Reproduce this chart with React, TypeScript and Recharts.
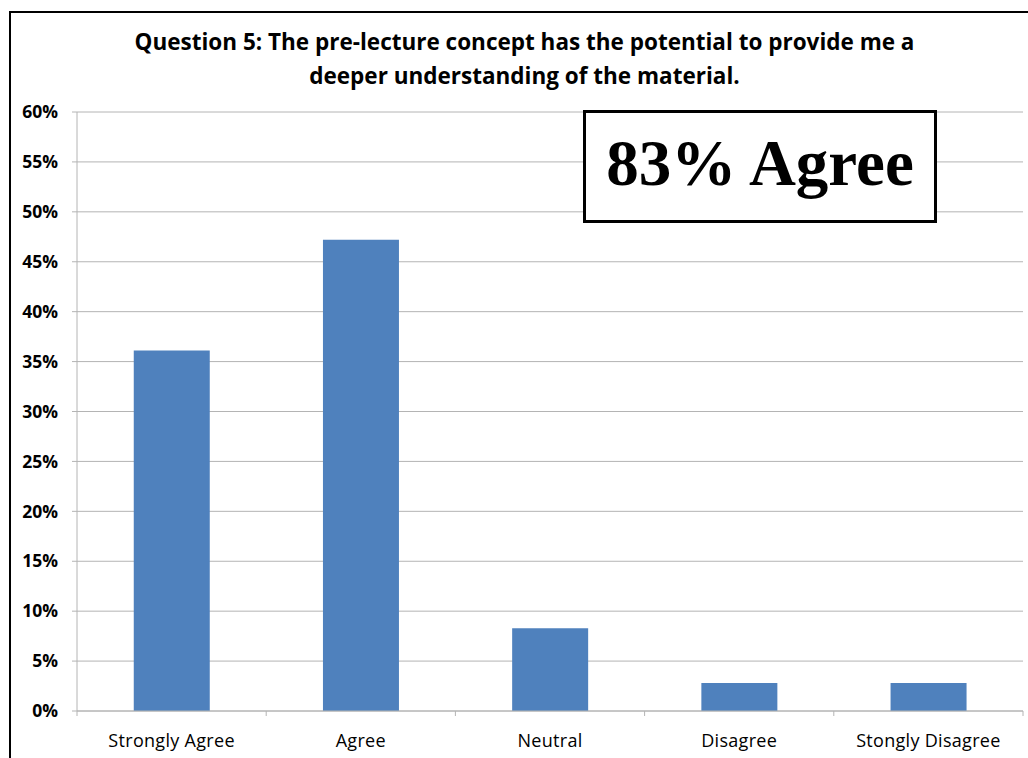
import React from "react";
import { BarChart, Bar, XAxis, YAxis, CartesianGrid } from "recharts";

const categories = ["Strongly Agree", "Agree", "Neutral", "Disagree", "Stongly Disagree"];
const percentages = [36.1, 47.2, 8.3, 2.8, 2.8];
const yTicks = [0, 5, 10, 15, 20, 25, 30, 35, 40, 45, 50, 55, 60];
const titleLines = [
  "Question 5: The pre-lecture concept has the potential to provide me a",
  "deeper understanding of the material.",
];
const annotation = "83% Agree";

const data = categories.map((c, i) => ({ name: c, value: percentages[i] }));

const FONT = "'Open Sans', Lato, sans-serif";
const GRID = "#B4B4B4";

const W = 1028;
const H = 758;
const PLOT_LEFT = 77;
const PLOT_RIGHT = 1023;
const BAND = (PLOT_RIGHT - PLOT_LEFT) / categories.length;

const XTick = (props: any) => {
  const { x, y, payload, index } = props;
  const half = BAND / 2;
  return (
    <g>
      {index === 0 && (
        <line x1={x - half} y1={y - 8} x2={x - half} y2={y - 3} stroke={GRID} strokeWidth={1} />
      )}
      <line x1={x + half} y1={y - 8} x2={x + half} y2={y - 3} stroke={GRID} strokeWidth={1} />
      <text
        x={x}
        y={y + 28}
        textAnchor="middle"
        fontFamily={FONT}
        fontSize={18}
        letterSpacing={0.3}
        fill="#000"
      >
        {payload.value}
      </text>
    </g>
  );
};

export default function App() {
  return (
    <div style={{ position: "absolute", left: 0, top: 0, width: W, height: H, background: "#fff", overflow: "hidden" }}>
      <div
        style={{
          position: "absolute",
          left: 9,
          top: 11,
          width: W + 20,
          height: H + 20,
          border: "2px solid #000",
          boxSizing: "border-box",
        }}
      />
      <div
        style={{
          position: "absolute",
          left: 0,
          width: 1049,
          top: 25,
          textAlign: "center",
          fontFamily: FONT,
          fontWeight: 700,
          fontSize: 22.5,
          lineHeight: "34px",
          color: "#000",
        }}
      >
        {titleLines.map((l, i) => (
          <div key={i}>{l}</div>
        ))}
      </div>
      <div style={{ position: "absolute", left: 0, top: 0 }}>
        <BarChart
          width={W}
          height={H}
          data={data}
          margin={{ top: 112, right: W - PLOT_RIGHT, bottom: 0, left: 12 }}
          barCategoryGap="30%"
        >
          <CartesianGrid vertical={false} stroke={GRID} strokeWidth={1} />
          <XAxis
            dataKey="name"
            height={47}
            axisLine={{ stroke: GRID }}
            tickLine={false}
            tick={<XTick />}
            interval={0}
          />
          <YAxis
            width={65}
            domain={[0, 60]}
            ticks={yTicks}
            interval={0}
            tickFormatter={(v: number) => `${v}%`}
            axisLine={{ stroke: GRID }}
            tickLine={{ stroke: GRID }}
            tickSize={5}
            tick={{ fontFamily: FONT, fontWeight: 700, fontSize: 17.5, fill: "#000", dx: -12 }}
          />
          <Bar dataKey="value" fill="#4F81BD" isAnimationActive={false} />
        </BarChart>
      </div>
      <div
        style={{
          position: "absolute",
          left: 583,
          top: 110,
          width: 354,
          height: 113,
          border: "3.5px solid #000",
          boxSizing: "border-box",
          background: "#fff",
          display: "flex",
          alignItems: "center",
          justifyContent: "center",
          paddingBottom: 6,
          fontFamily: "'Liberation Serif', 'Times New Roman', serif",
          fontWeight: 700,
          fontSize: 65,
          color: "#000",
        }}
      >
        {annotation}
      </div>
    </div>
  );
}
